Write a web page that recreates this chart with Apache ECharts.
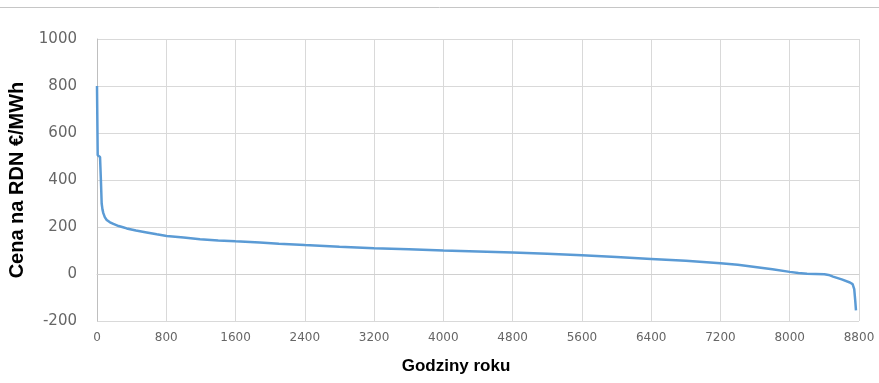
<!DOCTYPE html>
<html>
<head>
<meta charset="utf-8">
<title>Cena na RDN</title>
<script src="https://cdn.jsdelivr.net/npm/echarts@6/dist/echarts.min.js"></script>
<style>
  html, body { margin: 0; padding: 0; background: #ffffff; }
  #chart { width: 879px; height: 383px; }
</style>
</head>
<body>
<div id="chart"></div>
<script>
// Price duration curve: hours of the year sorted by day-ahead price (€/MWh)
const hours = [0, 8, 10, 35, 45, 54, 63, 73, 90, 112, 150, 189, 250, 300, 343, 450, 574, 690, 805,
  1000, 1190, 1400, 1600, 1880, 2100, 2400, 2800, 3200, 3600, 4000, 4400, 4800, 5200,
  5600, 6000, 6400, 6800, 7200, 7400, 7600, 7800, 8000, 8100, 8200, 8300, 8400, 8450,
  8500, 8600, 8695, 8726, 8745, 8757, 8765];
const prices = [800, 505, 500, 498, 400, 300, 275, 259, 242, 230, 220, 213, 204, 199, 194, 185, 177, 169, 162,
  155, 148, 143, 139, 134, 129, 123, 116, 110, 105, 100, 96, 92, 86,
  80, 72, 64, 56, 46, 39, 30, 20, 9, 4, 1, 0, -1, -4,
  -11, -23, -36, -43, -64, -115, -155];

const xTicks = { min: 0, max: 8800, interval: 800 };
const yTicks = { min: -200, max: 1000, interval: 200 };

const xName = 'Godziny roku';
const yName = 'Cena na RDN €/MWh';

const seriesData = hours.map((h, i) => [h, prices[i]]);

// plain integers, no thousands separator
const plain = v => String(v);

const chart = echarts.init(document.getElementById('chart'), null, { renderer: 'canvas' });

chart.setOption({
  animation: false,
  backgroundColor: '#ffffff',
  grid: { left: 97, right: 20, top: 39, bottom: 62, containLabel: false, outerBoundsMode: 'none' },
  graphic: [
    {
      type: 'line',
      shape: { x1: 0, y1: 7.5, x2: 879, y2: 7.5 },
      style: { stroke: '#c6c6c6', lineWidth: 1 }
    }
  ],
  xAxis: {
    type: 'value',
    min: xTicks.min,
    max: xTicks.max,
    interval: xTicks.interval,
    name: xName,
    nameLocation: 'middle',
    nameGap: 37,
    nameTextStyle: {
      fontFamily: 'Liberation Sans',
      fontWeight: 'bold',
      fontSize: 17,
      color: '#000000',
      padding: [0, 44, 0, 0]
    },
    axisLine: { show: true, lineStyle: { color: '#d0d0d0', width: 1 } },
    axisTick: { show: false },
    axisLabel: {
      margin: 11,
      fontFamily: 'DejaVu Sans',
      fontSize: 12,
      color: '#666666',
      formatter: plain
    },
    splitLine: { show: true, lineStyle: { color: '#d9d9d9', width: 1 } }
  },
  yAxis: {
    type: 'value',
    min: yTicks.min,
    max: yTicks.max,
    interval: yTicks.interval,
    name: yName,
    nameLocation: 'middle',
    nameGap: 65,
    nameTextStyle: {
      fontFamily: 'Liberation Sans',
      fontWeight: 'bold',
      fontSize: 20,
      color: '#000000'
    },
    axisLine: { show: true, lineStyle: { color: '#bfbfbf', width: 1 } },
    axisTick: { show: false },
    axisLabel: {
      margin: 20,
      fontFamily: 'DejaVu Sans',
      fontSize: 15,
      color: '#666666',
      formatter: plain
    },
    splitLine: { show: true, lineStyle: { color: '#d9d9d9', width: 1 } }
  },
  series: [
    {
      type: 'line',
      data: seriesData,
      showSymbol: false,
      symbol: 'none',
      lineStyle: { color: '#5b9bd5', width: 2.5 },
      itemStyle: { color: '#5b9bd5' }
    }
  ]
});
</script>
</body>
</html>
